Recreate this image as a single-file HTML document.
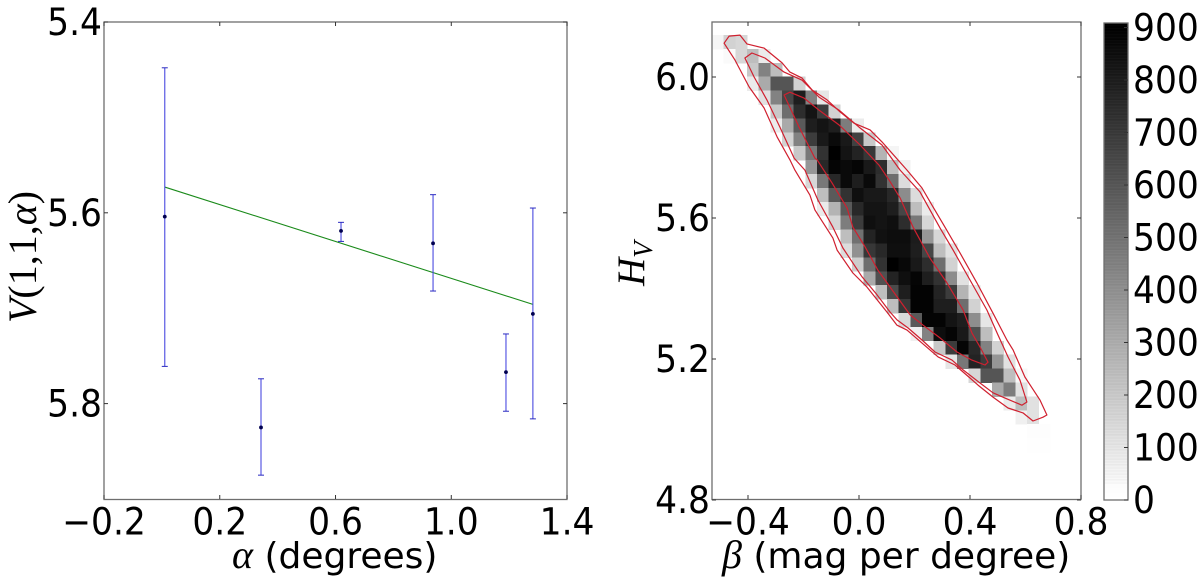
<!DOCTYPE html>
<html>
<head>
<meta charset="utf-8">
<title>Phase curve fit and H-beta posterior</title>
<style>
html,body{margin:0;padding:0;background:#fff;width:1200px;height:577px;overflow:hidden}
svg{display:block}
text{font-family:"DejaVu Sans","Liberation Sans",sans-serif;fill:#000}
.math{font-family:"Liberation Serif",serif}
</style>
</head>
<body>
<svg id="fig" xmlns="http://www.w3.org/2000/svg" width="1200" height="577" viewBox="0 0 1200 577">
  <text x="232" y="568" font-size="36"><tspan class="math" font-style="italic" font-size="40">α</tspan> (degrees)</text>
  <text class="math" transform="translate(36,323) rotate(-90)" font-size="40"><tspan font-style="italic">V</tspan>(1,1,<tspan font-style="italic">α</tspan>)</text>
  <text x="722" y="568" font-size="36"><tspan class="math" font-style="italic" font-size="40">β</tspan> (mag per degree)</text>
  <text class="math" transform="translate(644,286) rotate(-90)" font-size="39"><tspan font-style="italic">H</tspan><tspan font-style="italic" font-size="27" dy="8">V</tspan></text>
</svg>
<script>
// ---------- left panel data ----------
const alphaDeg = [0.01, 0.3425, 0.619, 0.937, 1.189, 1.282];
const reducedMag = [5.604, 5.825, 5.619, 5.632, 5.767, 5.706];
const magUpper = [5.448, 5.774, 5.61, 5.581, 5.727, 5.595];
const magLower = [5.761, 5.875, 5.63, 5.682, 5.808, 5.816];
const fitAlpha = [0.01, 1.282];
const fitMag = [5.573, 5.696];
const leftXTicks = ["−0.2", "0.2", "0.6", "1.0", "1.4"];
const leftXTickValues = [-0.2, 0.2, 0.6, 1.0, 1.4];
const leftYTicks = ["5.4", "5.6", "5.8"];
const leftYTickValues = [5.4, 5.6, 5.8];

// ---------- right panel data ----------
const rightXTicks = ["−0.4", "0.0", "0.4", "0.8"];
const rightXTickValues = [-0.4, 0, 0.4, 0.8];
const rightYTicks = ["6.0", "5.6", "5.2", "4.8"];
const rightYTickValues = [6.0, 5.6, 5.2, 4.8];
const colorbarTicks = [0, 100, 200, 300, 400, 500, 600, 700, 800, 900];

// first occupied beta bin of each H row
const rowStartBin = [0,1,3,3,4,5,5,6,7,8,8,9,9,10,11,11,12,13,14,15,16,17,19,20,22,24,25,26,27,27];
// sample counts per bin, one list per H row (top to bottom)
const binCounts = [
  [35,159,141],
  [18,141,229,71],
  [194,441,229],
  [71,300,600,600,159],
  [106,441,653,794,441,88],
  [194,512,741,830,688,159],
  [71,300,582,794,830,794,459,71],
  [159,441,688,812,865,812,670,194],
  [194,476,724,900,830,776,706,265,35],
  [371,759,882,865,882,812,741,229,53],
  [141,476,759,865,794,865,724,512,124],
  [229,582,724,847,812,812,759,406,124],
  [71,265,582,759,830,830,794,653,229,71],
  [150,460,688,847,830,847,741,476,141],
  [229,500,776,840,855,855,800,371,141],
  [124,388,706,759,847,847,794,653,229,106],
  [176,512,724,900,872,812,741,512,159],
  [300,618,776,847,882,794,724,406,106],
  [229,635,794,890,890,776,688,265,88],
  [229,706,890,890,794,794,512,159],
  [130,582,885,885,830,794,400,88],
  [53,441,850,882,812,620,229],
  [194,688,882,759,441,159],
  [88,476,776,688,371,106],
  [141,600,600,229,30],
  [300,459,106],
  [71,229,106],
  [53,106],
  [8,8],
  [4,4]
];
const contourOuterBeta = [-.486,-.468,-.429,-.404,-.342,-.277,-.249,-.205,-.169,-.115,-.068,-.018,.040,.083,.173,.227,.267,.310,.364,.425,.483,.533,.555,.598,.652,.677,.663,.627,.591,.537,.483,.429,.400,.346,.285,.227,.173,.137,.101,.029,-.022,-.079,-.094,-.159,-.177,-.231,-.249,-.295,-.342,-.396,-.447];
const contourOuterH = [6.096,6.116,6.119,6.094,6.082,6.040,6.014,5.997,5.963,5.935,5.901,5.869,5.850,5.816,5.736,5.685,5.631,5.574,5.501,5.416,5.330,5.254,5.226,5.149,5.084,5.041,5.035,5.024,5.047,5.061,5.092,5.126,5.146,5.183,5.206,5.245,5.282,5.296,5.333,5.404,5.444,5.509,5.543,5.623,5.665,5.736,5.765,5.830,5.912,5.972,6.048];
const contourMiddleBeta = [-.411,-.386,-.339,-.270,-.205,-.144,-.072,0,.083,.148,.220,.256,.292,.339,.400,.461,.501,.537,.580,.605,.587,.569,.526,.483,.436,.375,.335,.274,.227,.177,.137,.112,.065,.011,-.058,-.094,-.148,-.195,-.234,-.285,-.332,-.378];
const contourMiddleH = [6.054,6.068,6.054,6.014,5.991,5.943,5.906,5.858,5.807,5.736,5.674,5.623,5.572,5.509,5.424,5.339,5.268,5.206,5.140,5.078,5.069,5.075,5.089,5.104,5.132,5.169,5.197,5.220,5.254,5.288,5.311,5.333,5.382,5.433,5.515,5.574,5.651,5.736,5.770,5.858,5.935,6.000];
const contourInnerBeta = [-.270,-.249,-.198,-.144,-.072,.004,.072,.108,.148,.195,.256,.317,.375,.407,.436,.465,.454,.407,.353,.292,.231,.184,.112,.068,.022,-.022,-.043,-.097,-.151,-.159,-.216];
const contourInnerH = [5.949,5.957,5.940,5.906,5.864,5.807,5.750,5.708,5.657,5.574,5.486,5.416,5.339,5.274,5.234,5.191,5.183,5.197,5.220,5.260,5.296,5.325,5.404,5.452,5.518,5.574,5.628,5.699,5.765,5.770,5.858];

// ---------- scales ----------
const NS = "http://www.w3.org/2000/svg";
const fig = document.getElementById("fig");
const lx = v => 104 + (v + 0.2) * 289.4;
const ly = v => 22 + (v - 5.4) * 954;
const rx = v => 859 + v * 277.5;
const ry = v => 77 + (6 - v) * 352.5;
const cbY = v => 500 - v * 0.525;
const betaEdge = k => -0.53 + k * 0.04205;
const hEdge = k => 6.119 - k * 0.03943;
const grey = c => { const g = Math.round(255 * (1 - Math.min(c, 900) / 900)); return `rgb(${g},${g},${g})`; };

function el(tag, attrs, parent) {
  const e = document.createElementNS(NS, tag);
  for (const k in attrs) e.setAttribute(k, attrs[k]);
  (parent || fig).appendChild(e);
  return e;
}

// ---------- heatmap ----------
const heat = el("g", {"shape-rendering": "crispEdges"});


binCounts.forEach((row, r) => {
  row.forEach((count, i) => {
    const k = rowStartBin[r] + i;
    const x0 = rx(betaEdge(k)), x1 = rx(betaEdge(k + 1));
    const y0 = ry(hEdge(r)), y1 = ry(hEdge(r + 1));
    const cell = el("rect", {x: x0, y: y0, width: x1 - x0 + 0.4, height: y1 - y0 + 0.4, fill: grey(count)}, heat);
    
    
  });
});

// ---------- contours ----------
function contour(betas, hs, name) {
  const pts = betas.map((b, i) => rx(b).toFixed(1) + "," + ry(hs[i]).toFixed(1)).join(" ");
  const p = el("polygon", {points: pts, fill: "none", stroke: "#d0202f", "stroke-width": 1.2, "stroke-linejoin": "round"});
  
  
}
contour(contourOuterBeta, contourOuterH, 'contour-outer');
contour(contourMiddleBeta, contourMiddleH, 'contour-middle');
contour(contourInnerBeta, contourInnerH, 'contour-inner');

// ---------- left panel marks ----------
const fit = el("line", {x1: lx(fitAlpha[0]), y1: ly(fitMag[0]), x2: lx(fitAlpha[1]), y2: ly(fitMag[1]), stroke: "#1a8a1a", "stroke-width": 1.1});


alphaDeg.forEach((a, i) => {
  const x = lx(a);
  const bar = el("line", {x1: x, x2: x, y1: ly(magUpper[i]), y2: ly(magLower[i]), stroke: "#4a4ae0", "stroke-width": 1.1});
  
  
  [magUpper[i], magLower[i]].forEach(v => {
    const cap = el("line", {x1: x - 3, x2: x + 3, y1: ly(v), y2: ly(v), stroke: "#2a2ac0", "stroke-width": 1});
    
    
  });
  const y = ly(reducedMag[i]);
  const m = el("circle", {cx: x, cy: y, r: 1.9, fill: "#000050"});
  
  
});

// ---------- colorbar ----------
const cb = el("g", {"shape-rendering": "crispEdges"});


const cbTop = Math.round(cbY(908));
let band = 0;
for (let y = 500; y > cbTop; y -= 1) {
  const v = (500 - y) / 0.525;
  const stripe = band % 3 === 0 ? -14 : (band % 5 === 0 ? 10 : 0);
  const shown = v < 30 ? v * 0.4 : v + stripe;
  const s = el("rect", {x: 1104, y: y - 1, width: 24, height: 1, fill: grey(Math.max(0, shown))}, cb);
  
  
  band++;
}

// ---------- axes ----------
function frame(x0, y0, x1, y1, name) {
  const r = el("rect", {x: x0, y: y0, width: x1 - x0, height: y1 - y0, fill: "none", stroke: "#6e6e6e", "stroke-width": 1.3});
  
  
}
frame(104, 22, 567, 499.5, 'left-axes-frame');
frame(712, 22, 1081, 499.5, 'right-axes-frame');
frame(1104, cbTop, 1128, 500, 'colorbar-frame');

function tick(x1, y1, x2, y2) {
  const t = el("line", {x1, y1, x2, y2, stroke: "#333", "stroke-width": 1});
  
  
}
function label(str, x, y, anchor) {
  const t = el("text", {transform: `translate(${x},${y}) scale(1,1.08)`, "font-size": 34.5, "text-anchor": anchor});
  t.textContent = str;
  
  
}

leftXTickValues.forEach((v, i) => {
  const x = lx(v);
  tick(x, 499, x, 495);
  tick(x, 22, x, 26);
  label(leftXTicks[i], x, 534.5, "middle");
});
leftYTickValues.forEach((v, i) => {
  const y = ly(v);
  tick(104, y, 108, y);
  tick(567, y, 563, y);
  label(leftYTicks[i], 102, y + 13, "end");
});
rightXTickValues.forEach((v, i) => {
  const x = rx(v);
  tick(x, 499, x, 495);
  tick(x, 22, x, 26);
  label(rightXTicks[i], x, 534.5, "middle");
});
rightYTickValues.forEach((v, i) => {
  const y = ry(v);
  tick(712, y, 716, y);
  tick(1081, y, 1077, y);
  label(rightYTicks[i], 710, y + 13, "end");
});
colorbarTicks.forEach(v => {
  const y = cbY(v);
  tick(1128, y, 1124, y);
  label(String(v), 1133, y + 13, "start");
});
</script>
</body>
</html>
